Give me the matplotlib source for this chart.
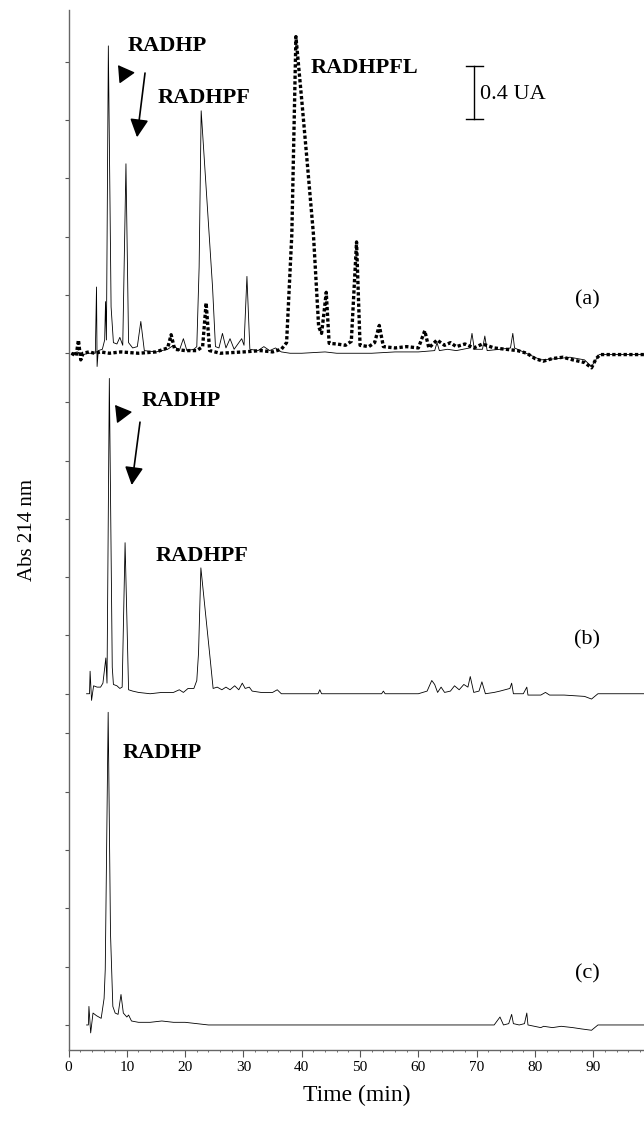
import matplotlib.pyplot as plt
from matplotlib.ticker import MultipleLocator

plt.rcParams['font.family'] = ['Liberation Serif', 'DejaVu Serif']

# trace (a) - solid line
t_a = [0.5, 1.5, 2.5, 3.5, 4.6, 4.8, 4.9, 5.1, 5.8, 6.2, 6.35, 6.5, 6.83, 7.3, 7.7,
       8.3, 8.8, 9.3, 9.85, 10.3, 11.0, 11.8, 12.4, 13.0, 15.0, 17.0, 18.0, 19.0,
       19.7, 20.3, 21.5, 22.0, 22.4, 22.75, 24.7, 25.2, 25.8, 26.4, 27.0, 27.7,
       28.4, 29.7, 30.1, 30.6, 31.1, 32.5, 33.5, 34.5, 35.5, 36.5, 38, 40, 44, 46,
       52, 56, 60, 62.8, 63.2, 63.6, 65, 66.5, 68.8, 69.2, 69.6, 71.0, 71.4, 71.8,
       74, 75.8, 76.2, 76.5, 78, 79.5, 81, 84, 86, 88.5, 89.7, 91.0, 99]
abs_a = [0.0, 0.01, -0.01, 0.0, 0.0, 0.50, -0.10, 0.02, 0.03, 0.10, 0.39, 0.10, 2.32,
         0.35, 0.08, 0.07, 0.12, 0.06, 1.43, 0.08, 0.04, 0.05, 0.24, 0.02, 0.01,
         0.03, 0.06, 0.02, 0.11, 0.02, 0.03, 0.05, 0.65, 1.83, 0.50, 0.05, 0.04,
         0.15, 0.04, 0.11, 0.03, 0.11, 0.06, 0.58, 0.03, 0.02, 0.05, 0.02, 0.04,
         0.01, 0.0, 0.0, 0.01, 0.0, 0.0, 0.01, 0.01, 0.02, 0.08, 0.02, 0.03, 0.02,
         0.04, 0.15, 0.03, 0.03, 0.13, 0.02, 0.03, 0.04, 0.15, 0.04, 0.01, -0.02,
         -0.05, -0.04, -0.03, -0.05, -0.10, -0.01, -0.01]

# trace (a) - dotted line
t_a2 = [0.5, 1.3, 1.7, 2.1, 2.5, 3.5, 4.5, 5.5, 7.0, 9.0, 12.0, 15.0, 17.0, 17.6,
        18.2, 20.0, 22.0, 23.0, 23.6, 24.2, 26.0, 30.0, 33.0, 35.0, 36.5, 37.4,
        38.3, 39.0, 40.0, 40.9, 42.0, 42.9, 43.4, 43.8, 44.2, 44.7, 46.0, 47.5,
        48.5, 49.4, 50.0, 51.5, 52.5, 53.3, 54.0, 56.0, 58.0, 60.0, 61.1, 61.8,
        63.2, 64.5, 65.5, 66.5, 68.0, 69.5, 71.0, 73.0, 75.0, 77.0, 78.6, 80.0,
        81.4, 83.0, 84.8, 86.5, 88.5, 89.7, 90.5, 91.2, 99.0]
abs_a2 = [0.0, -0.02, 0.10, -0.05, 0.0, 0.01, 0.0, 0.01, 0.0, 0.01, 0.0, 0.01, 0.04,
          0.14, 0.03, 0.02, 0.02, 0.05, 0.38, 0.02, 0.0, 0.01, 0.02, 0.01, 0.03,
          0.08, 0.90, 2.39, 1.91, 1.46, 0.90, 0.20, 0.15, 0.30, 0.46, 0.075, 0.07,
          0.06, 0.09, 0.84, 0.06, 0.05, 0.08, 0.21, 0.05, 0.04, 0.05, 0.04, 0.17,
          0.04, 0.10, 0.06, 0.08, 0.05, 0.07, 0.04, 0.07, 0.04, 0.03, 0.02, 0.0,
          -0.04, -0.06, -0.04, -0.03, -0.05, -0.07, -0.11, -0.04, -0.01, -0.01]

# trace (b)
t_b = [3.1, 3.6, 3.7, 3.95, 4.3, 4.9, 5.5, 5.9, 6.4, 6.6, 7.0, 7.5, 7.7, 8.3, 8.8,
       9.2, 9.7, 10.3, 11.0, 12.0, 14.0, 16.0, 18.0, 19.0, 19.7, 20.5, 21.5, 22.0,
       22.3, 22.7, 24.3, 24.8, 25.5, 26.3, 27.0, 27.7, 28.5, 29.2, 29.8, 30.3,
       31.0, 31.5, 33.0, 35.0, 35.8, 36.5, 40.0, 42.8, 43.1, 43.4, 48.0, 51.5,
       53.7, 54.0, 54.3, 60.0, 61.5, 62.3, 62.8, 63.3, 63.9, 64.5, 65.5, 66.2,
       67.0, 67.8, 68.5, 68.9, 69.5, 70.4, 70.9, 71.5, 73.0, 74.0, 75.7, 76.0,
       76.3, 78.0, 78.6, 78.8, 81.0, 81.8, 82.5, 85, 88.5, 89.7, 90.8, 99]
abs_b = [0.0, 0.0, 0.17, -0.05, 0.06, 0.05, 0.05, 0.08, 0.27, 0.08, 2.38, 0.20, 0.07,
         0.06, 0.04, 0.05, 1.14, 0.03, 0.02, 0.01, 0.0, 0.01, 0.01, 0.03, 0.01,
         0.04, 0.04, 0.10, 0.31, 0.95, 0.26, 0.04, 0.05, 0.03, 0.05, 0.03, 0.06,
         0.03, 0.08, 0.04, 0.05, 0.02, 0.01, 0.01, 0.03, 0.0, 0.0, 0.0, 0.03, 0.0,
         0.0, 0.0, 0.0, 0.02, 0.0, 0.0, 0.02, 0.10, 0.07, 0.01, 0.05, 0.01, 0.02,
         0.06, 0.03, 0.07, 0.05, 0.13, 0.01, 0.02, 0.09, 0.0, 0.01, 0.02, 0.04,
         0.08, 0.0, 0.0, 0.05, -0.01, -0.01, 0.01, -0.01, -0.01, -0.02, -0.04, 0.0,
         0.0]

# trace (c)
t_c = [3.1, 3.4, 3.5, 3.8, 4.2, 4.8, 5.6, 6.1, 6.3, 6.8, 7.2, 7.6, 8.0, 8.5, 9.0,
       9.4, 10.0, 10.3, 10.8, 12.0, 14.0, 16.0, 18.0, 20.0, 22.0, 24.0, 73.0,
       74.0, 74.6, 75.5, 76.0, 76.3, 77.3, 78.2, 78.6, 78.8, 81.0, 81.5, 83.0,
       84.5, 86.5, 88.0, 89.7, 90.8, 99]
abs_c = [0.0, 0.0, 0.14, -0.06, 0.09, 0.07, 0.05, 0.20, 0.42, 2.36, 0.69, 0.14, 0.09,
         0.08, 0.23, 0.09, 0.06, 0.075, 0.03, 0.02, 0.02, 0.03, 0.02, 0.02, 0.01,
         0.0, 0.0, 0.06, 0.0, 0.01, 0.08, 0.01, 0.0, 0.01, 0.09, 0.0, -0.02, -0.01,
         -0.02, -0.01, -0.02, -0.03, -0.04, 0.0, 0.0]

offsets = {'a': 5.07, 'b': 2.50, 'c': 0.0}
tick_step = 0.44

fig = plt.figure(figsize=(6.44, 11.23), dpi=100)
ax = fig.add_axes([0.1064, 0.065, 0.8936, 0.926])

ax.plot(t_a, [v + offsets['a'] for v in abs_a], color='black', lw=0.6)
ax.plot(t_a2, [v + offsets['a'] for v in abs_a2], color='black', lw=2.4,
        linestyle=(0, (1, 0.7)))
ax.plot(t_b, [v + offsets['b'] for v in abs_b], color='black', lw=0.6)
ax.plot(t_c, [v + offsets['c'] for v in abs_c], color='black', lw=0.6)

ax.set_xlim(0, 98.7)
ax.set_ylim(-0.189, 7.66)

yticks = []
for off in offsets.values():
    yticks += [off + k * tick_step for k in range(6)]
ax.set_yticks(yticks)
ax.tick_params(axis='y', length=3, width=0.8, labelleft=False, color='#555555')
ax.xaxis.set_major_locator(MultipleLocator(10))
ax.xaxis.set_minor_locator(MultipleLocator(2))
ax.tick_params(axis='x', which='major', length=5, width=0.8, labelsize=11,
               color='#555555', pad=3)
ax.tick_params(axis='x', which='minor', length=1.5, width=0.6, color='#555555')

for side in ['top', 'right']:
    ax.spines[side].set_visible(False)
for side in ['left', 'bottom']:
    ax.spines[side].set_color('#666666')
    ax.spines[side].set_linewidth(1.0)

ax.set_xlabel('Time (min)', fontsize=17, labelpad=8)
ax.set_ylabel('Abs 214 nm', fontsize=15, labelpad=20)

bold = dict(fontsize=16, fontweight='bold', ha='center', va='center')
ax.text(16.9, 7.39, 'RADHP', **bold)
ax.text(23.2, 7.00, 'RADHPF', **bold)
ax.text(50.7, 7.22, 'RADHPFL', **bold)
ax.text(19.3, 4.71, 'RADHP', **bold)
ax.text(22.9, 3.54, 'RADHPF', **bold)
ax.text(16.0, 2.05, 'RADHP', **bold)

for lab, yy in [('(a)', 5.47), ('(b)', 2.91), ('(c)', 0.385)]:
    ax.text(89.0, yy, lab, fontsize=16, ha='center', va='center')

# scale bar
ax.plot([69.6, 69.6], [6.84, 7.24], color='black', lw=1.0)
ax.plot([68.2, 71.1], [7.24, 7.24], color='black', lw=1.0)
ax.plot([68.2, 71.1], [6.84, 6.84], color='black', lw=1.0)
ax.text(70.6, 7.02, '0.4 UA', fontsize=16, ha='left', va='center')

# arrows
head_only = dict(arrowstyle='-|>,head_length=0.5,head_width=0.3', color='black',
                 shrinkA=0, shrinkB=0, mutation_scale=20)
long_arrow = dict(arrowstyle='-|>,head_length=0.55,head_width=0.28', color='black',
                  lw=1.2, shrinkA=0, shrinkB=0, mutation_scale=20)
ax.annotate('', xy=(8.49, 7.245), xytext=(9.86, 7.16), arrowprops=head_only)
ax.annotate('', xy=(11.75, 6.70), xytext=(13.12, 7.185), arrowprops=long_arrow)
ax.annotate('', xy=(7.98, 4.68), xytext=(9.35, 4.60), arrowprops=head_only)
ax.annotate('', xy=(10.84, 4.075), xytext=(12.26, 4.55), arrowprops=long_arrow)

fig.savefig('out.png', dpi=100)
